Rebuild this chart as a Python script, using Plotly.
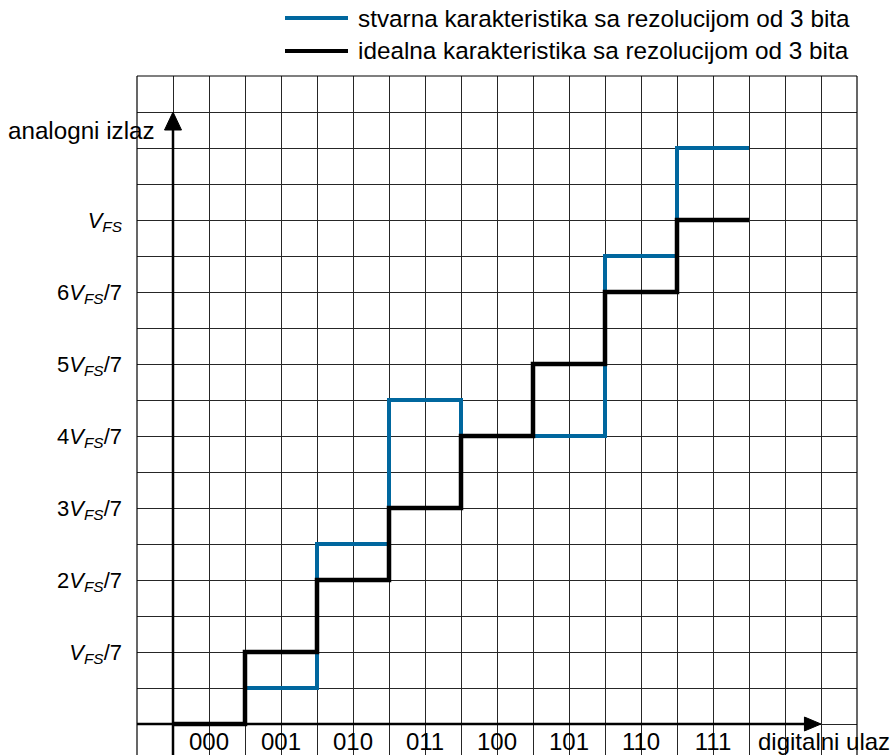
import plotly.graph_objects as go

# ---- data (y in units of V_FS/7, x = digital code index) ----
codes = ["000", "001", "010", "011", "100", "101", "110", "111"]
ideal_levels = [0, 1, 2, 3, 4, 5, 6, 7]
actual_levels = [0, 0.5, 2.5, 4.5, 4, 4, 6.5, 8]
y_tick_values = [1, 2, 3, 4, 5, 6, 7]
y_tick_labels = [
    "<i>V</i><sub><i>FS</i></sub>/7",
    "2<i>V</i><sub><i>FS</i></sub>/7",
    "3<i>V</i><sub><i>FS</i></sub>/7",
    "4<i>V</i><sub><i>FS</i></sub>/7",
    "5<i>V</i><sub><i>FS</i></sub>/7",
    "6<i>V</i><sub><i>FS</i></sub>/7",
    "<i>V</i><sub><i>FS</i></sub>",
]
name_actual = "stvarna karakteristika sa rezolucijom od 3 bita"
name_ideal = "idealna karakteristika sa rezolucijom od 3 bita"

BLUE = "#00679e"
GRID = "#262626"
FONT = "Liberation Sans, Arial, sans-serif"

W, H = 893, 755
ML, MR, MT, MB = 137, 36, 76, 0
PW, PH = W - ML - MR, H - MT - MB
X0, X1 = -0.5, 9.5
Y1 = 9.0
Y0 = Y1 - PH / 72.0

def px_x(p):
    return (p - ML) / PW

def px_y(p):
    return (H - MB - p) / PH

xs = list(range(len(codes) + 1))

fig = go.Figure()
fig.add_trace(go.Scatter(
    x=xs, y=actual_levels + [actual_levels[-1]], mode="lines",
    line=dict(color=BLUE, width=4, shape="hv"), name=name_actual,
    showlegend=False, hoverinfo="skip"))
fig.add_trace(go.Scatter(
    x=xs, y=ideal_levels + [ideal_levels[-1]], mode="lines",
    line=dict(color="black", width=4.5, shape="hv"), name=name_ideal,
    showlegend=False, hoverinfo="skip"))

grid_x = [X0 + 0.5 * k for k in range(int((X1 - X0) / 0.5) + 1)]
grid_y = [0.5 * k for k in range(int(Y1 / 0.5) + 1)]

fig.update_layout(
    width=W, height=H,
    margin=dict(l=ML, r=MR, t=MT, b=MB, pad=0),
    paper_bgcolor="white", plot_bgcolor="white",
    font=dict(family=FONT, color="black", size=22),
    xaxis=dict(
        range=[X0, X1], tickmode="array",
        tickvals=[i + 0.5 for i in range(len(codes))], ticktext=codes,
        showgrid=True, gridcolor=GRID, gridwidth=1,
        minor=dict(tickmode="array", tickvals=grid_x, showgrid=True,
                   gridcolor=GRID, gridwidth=1, ticks=""),
        zeroline=False, showline=False, ticks="",
        anchor="free", position=(0 - Y0) / (Y1 - Y0),
        tickfont=dict(size=24), ticklabelstandoff=1,
        fixedrange=True,
    ),
    yaxis=dict(
        range=[Y0, Y1], tickmode="array",
        tickvals=y_tick_values, ticktext=y_tick_labels,
        showgrid=True, gridcolor=GRID, gridwidth=1,
        minor=dict(tickmode="array", tickvals=grid_y, showgrid=True,
                   gridcolor=GRID, gridwidth=1, ticks=""),
        zeroline=False, showline=False, ticks="",
        tickfont=dict(size=22), ticklabelstandoff=14,
        fixedrange=True,
    ),
)

shapes = []
# frame (left, right, top)
for (x0, y0, x1, y1) in [(0, 0, 0, 1), (1, 0, 1, 1), (0, 1, 1, 1)]:
    shapes.append(dict(type="line", xref="paper", yref="paper",
                       x0=x0, y0=y0, x1=x1, y1=y1,
                       line=dict(color="black", width=1.2), layer="above"))
# y axis line + arrow
shapes.append(dict(type="line", xref="x", yref="y", x0=0, x1=0, y0=Y0, y1=8.3,
                   line=dict(color="black", width=2.5), layer="above"))
shapes.append(dict(type="path", xref="x", yref="y",
                   path="M -0.118 8.25 L 0 8.5 L 0.118 8.25 Z",
                   fillcolor="black", line=dict(color="black", width=1), layer="above"))
# x axis line + arrow
shapes.append(dict(type="line", xref="x", yref="y", x0=X0, x1=8.8, y0=0, y1=0,
                   line=dict(color="black", width=2.5), layer="above"))
shapes.append(dict(type="path", xref="x", yref="y",
                   path="M 8.77 0.097 L 9 0 L 8.77 -0.097 Z",
                   fillcolor="black", line=dict(color="black", width=1), layer="above"))
# legend samples
shapes.append(dict(type="line", xref="paper", yref="paper",
                   x0=px_x(285), x1=px_x(348), y0=px_y(18), y1=px_y(18),
                   line=dict(color=BLUE, width=4)))
shapes.append(dict(type="line", xref="paper", yref="paper",
                   x0=px_x(285), x1=px_x(348), y0=px_y(51), y1=px_y(51),
                   line=dict(color="black", width=4)))
fig.update_layout(shapes=shapes)

annotations = [
    dict(text=name_actual, x=px_x(356), y=px_y(18), xanchor="left", yanchor="middle",
         font=dict(size=24.3)),
    dict(text=name_ideal, x=px_x(356), y=px_y(51), xanchor="left", yanchor="middle",
         font=dict(size=24.3)),
    dict(text="analogni izlaz", x=px_x(157), y=px_y(130), xanchor="right", yanchor="middle",
         font=dict(size=24.2)),
    dict(text="digitalni ulaz", x=px_x(892), y=px_y(741), xanchor="right", yanchor="middle",
         font=dict(size=24)),
]
for a in annotations:
    a.update(xref="paper", yref="paper", showarrow=False)
fig.update_layout(annotations=annotations)

fig.write_html("out.html",
               config={"displayModeBar": False},
               post_script="document.body.style.margin='0px';document.body.style.overflow='hidden';")
